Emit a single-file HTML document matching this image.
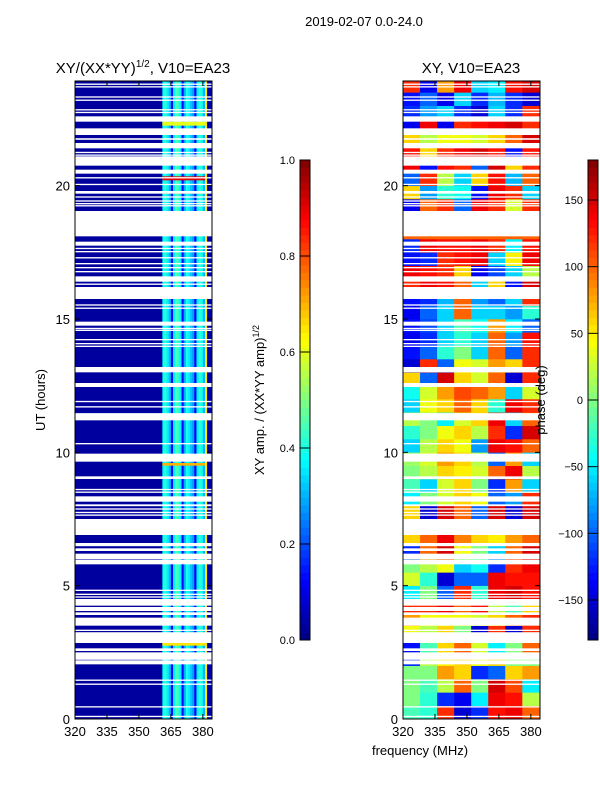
<!DOCTYPE html>
<html><head><meta charset="utf-8"><style>
body{margin:0;background:#fff;}
svg text{font-family:"Liberation Sans",sans-serif;fill:#000;}
</style></head><body>
<svg id="fig" width="600" height="800" xmlns="http://www.w3.org/2000/svg">
<rect width="600" height="800" fill="#fff"/>
<defs><clipPath id="clipL"><rect x="75" y="81" width="137" height="638"/></clipPath><clipPath id="clipR"><rect x="403" y="81" width="137" height="638"/></clipPath></defs>
<text x="364" y="26" font-size="13" text-anchor="middle">2019-02-07 0.0-24.0</text>
<g id="left"></g>
<g id="right"></g>
<g id="cb1"></g>
<g id="cb2"></g>
<text x="420" y="755" font-size="13" text-anchor="middle">frequency (MHz)</text>
<text transform="translate(45,400) rotate(-90)" font-size="13" text-anchor="middle">UT (hours)</text>
<text transform="translate(264,400) rotate(-90)" font-size="13" text-anchor="middle">XY amp. / (XX*YY amp)<tspan font-size="9" dy="-5">1/2</tspan></text>
<text transform="translate(545,400) rotate(-90)" font-size="13" text-anchor="middle">phase (deg)</text>
<text x="143" y="73" font-size="15" text-anchor="middle">XY/(XX*YY)<tspan font-size="10" dy="-6">1/2</tspan><tspan dy="6">, V10=EA23</tspan></text>
<text x="471" y="73" font-size="15" text-anchor="middle">XY, V10=EA23</text>
</svg>
<script>
// ---- data ----
const freqTicks = [320, 335, 350, 365, 380];
const hourTicks = [0, 5, 10, 15, 20];
const ampTicks = [0.0, 0.2, 0.4, 0.6, 0.8, 1.0];
const phaseTicks = [-150, -100, -50, 0, 50, 100, 150];
// amplitude per 1-MHz bin in the bright band (361..384 MHz)
const ampBandStart = 361;
const ampBand = [0.38, 0.42, 0.36, 0.3, 0.13, 0.36, 0.45, 0.42, 0.36, 0.13, 0.3, 0.4, 0.36, 0.32, 0.28, 0.12, 0.36, 0.42, 0.38, 0.3, 0.65, 0.05, 0.04, 0.04];
const ampBase = 0.03;
// bright amplitude rows [h0, h1, value]
const ampHot = [[20.2, 20.35, 0.9], [19.7, 19.8, 0.75], [22.25, 22.4, 0.6], [9.5, 9.6, 0.7], [2.75, 2.85, 0.65]];
// phase values: 48 half-hour rows (0h upward) x 8 freq bins of 8 MHz from 320
const phaseRows = [
[-20,-30,120,-150,-120,130,140,100],[0,-30,-120,-140,-50,140,130,20],[0,-20,20,100,0,150,110,-50],[0,0,80,60,-120,-100,60,80],
[-120,20,50,60,40,60,0,0],[-130,-20,60,100,30,-50,0,100],[40,20,60,0,-150,120,-150,120],[80,40,40,40,30,60,100,120],
[120,120,140,100,130,20,-20,60],[-50,0,-100,120,-30,140,150,130],[30,-30,-150,-100,-100,140,130,130],[0,20,40,-60,-40,-120,120,140],
[-120,100,150,40,0,-60,100,150],[60,100,140,90,60,50,80,100],[60,60,60,60,60,60,60,60],[60,-150,150,100,-100,150,-150,150],
[-50,0,30,60,40,-100,-80,120],[-20,-60,30,60,0,-120,80,-60],[0,20,60,50,30,100,140,20],[10,30,80,60,20,-100,80,-60],
[-60,20,60,40,-80,140,130,100],[-30,0,40,60,20,120,-120,150],[20,0,-50,30,60,140,-60,100],[-60,40,60,100,60,-30,140,120],
[-40,30,80,110,100,80,-60,30],[60,-100,150,60,30,100,-150,120],[-150,120,-100,40,30,80,60,120],[-130,-100,-30,0,-60,100,-100,120],
[-140,-120,-60,-30,-60,100,-80,130],[-130,-110,-60,-20,-40,80,-50,-100],[-140,-100,-60,100,-60,-60,-80,-30],[-130,-120,-70,100,-80,-100,-60,120],
[120,140,130,100,-60,60,-130,150],[140,130,120,60,-140,-110,-60,20],[-130,-120,120,130,140,-60,50,140],[-120,140,130,130,140,120,-50,130],
[100,100,100,100,100,100,100,100],[-140,100,120,-100,140,120,30,120],[-140,100,120,-100,140,120,30,120],[60,-80,-30,-40,-130,140,120,-60],
[-100,120,20,-60,60,130,-70,100],[140,-130,130,120,-100,150,60,120],[130,60,120,140,150,130,-130,130],[60,20,40,40,30,60,100,150],
[-140,140,-140,120,130,140,150,120],[-120,-80,-60,-120,-150,-60,-120,120],[-130,-100,-140,-60,-120,-70,-120,-150],[120,-140,80,140,-60,-50,130,150]
];
// flagged (white) intervals in hours [start, end]
const gapStart = [23.95,23.78,23.68,23.3,23.18,22.82,22.72,22.4,21.9,21.72,21.4,21.22,21.12,20.75,20.45,20.27,20.02,19.7,19.55,19.4,19.3,19.22,18.1,17.75,17.62,17.5,17.27,17.05,16.9,16.75,16.4,16.28,15.75,15.5,15.38,14.75,14.62,14.55,14.2,14.05,13.95,13.0,12.45,11.88,11.68,11.2,11.42,10.3,9.65,9.0,8.58,8.48,8.15,7.98,7.85,7.72,7.62,6.9,6.48,6.3,6.0,5.8,4.8,4.65,4.55,4.25,4.05,3.9,3.5,3.3,3.2,2.85,2.55,2.22,2.05,1.43,1.28,0.43,0.07];
const gapEnd   = [24.0,23.83,23.73,23.35,23.23,22.87,22.77,22.6,22.15,21.78,21.6,21.27,21.17,21.1,20.6,20.32,20.07,19.8,19.6,19.45,19.35,19.27,19.05,17.9,17.67,17.55,17.32,17.1,16.95,16.8,16.6,16.33,16.2,15.55,15.43,14.9,14.67,14.6,14.25,14.1,14.0,13.2,12.6,11.93,11.73,11.45,11.47,10.35,9.95,9.1,8.63,8.53,8.35,8.05,7.9,7.77,7.67,7.5,6.6,6.4,6.2,5.98,4.85,4.7,4.6,4.5,4.2,4.0,3.8,3.35,3.25,3.25,2.65,2.5,2.2,1.48,1.33,0.48,0.12];

// ---- helpers ----
const NS = "http://www.w3.org/2000/svg";
function jet(v){ v=Math.max(0,Math.min(1,v));
  const r=Math.max(0,Math.min(1,1.5-Math.abs(4*v-3)));
  const g=Math.max(0,Math.min(1,1.5-Math.abs(4*v-2)));
  const b=Math.max(0,Math.min(1,1.5-Math.abs(4*v-1)));
  return `rgb(${Math.round(r*255)},${Math.round(g*255)},${Math.round(b*255)})`; }
function mk(parent, tag, attrs){ const e=document.createElementNS(NS,tag); for(const k in attrs) e.setAttribute(k,attrs[k]); parent.appendChild(e); return e; }
const FMIN=320, FMAX=384.3, Y0=719, Y24=79, TOP=81;
function yScale(h){ return Y0 + (Y24-Y0)*h/24; }
function xScaleFor(x0,x1){ return f => x0 + (x1-x0)*(f-FMIN)/(FMAX-FMIN); }

function drawAxes(g, x0, x1){
  const xs = xScaleFor(x0,x1);
  mk(g,'rect',{x:x0,y:TOP,width:x1-x0,height:Y0-TOP,fill:'none',stroke:'#000','stroke-width':1});
  freqTicks.forEach(f=>{
    const x=xs(f);
    const t=mk(g,'line',{x1:x,x2:x,y1:Y0,y2:Y0-5,stroke:'#000'});
     
    mk(g,'line',{x1:x,x2:x,y1:TOP,y2:TOP+5,stroke:'#000'});
    const l=mk(g,'text',{x:x,y:Y0+17,'font-size':13,'text-anchor':'middle'});
     
    l.textContent=f;
  });
  hourTicks.forEach(h=>{
    const y=yScale(h);
    mk(g,'line',{x1:x0,x2:x0+5,y1:y,y2:y,stroke:'#000'});
    mk(g,'line',{x1:x1,x2:x1-5,y1:y,y2:y,stroke:'#000'});
    const l=mk(g,'text',{x:x0-5,y:y+5,'font-size':13,'text-anchor':'end'});
     
    l.textContent=h;
  });
}
function drawGaps(g,x0,x1){
  gapStart.forEach((s,i)=>{
    const e=gapEnd[i];
    const r=mk(g,'rect',{x:x0,y:yScale(e),width:x1-x0,height:Math.max(1,yScale(s)-yScale(e)),fill:'#fff'});
     
  });
}

// left panel
(function(){
  const root=document.getElementById('left'); const x0=75,x1=212; const xs=xScaleFor(x0,x1);
  const g=mk(root,'g',{'clip-path':'url(#clipL)'});
  mk(g,'rect',{x:x0,y:TOP,width:x1-x0,height:Y0-TOP,fill:jet(ampBase)});
  ampBand.forEach((v,i)=>{
    const f=ampBandStart+i;
    const c=mk(g,'rect',{x:xs(f),y:TOP,width:xs(f+1)-xs(f)+0.3,height:Y0-TOP,fill:jet(v)});
     
  });
  ampHot.forEach(r=>{
    const c=mk(g,'rect',{x:xs(ampBandStart),y:yScale(r[1]),width:xs(381)-xs(ampBandStart),height:yScale(r[0])-yScale(r[1]),fill:jet(r[2])});
     
  });
  drawGaps(g,x0,x1); drawAxes(root,x0,x1);
})();
// right panel
(function(){
  const root=document.getElementById('right'); const x0=403,x1=540; const xs=xScaleFor(x0,x1);
  const g=mk(root,'g',{'clip-path':'url(#clipR)'});
  phaseRows.forEach((row,ri)=>{
    row.forEach((v,ci)=>{
      const f0=FMIN+ci*8, f1=Math.min(FMAX,f0+8);
      const c=mk(g,'rect',{x:xs(f0),y:yScale((ri+1)*0.5),width:xs(f1)-xs(f0)+0.3,height:yScale(ri*0.5)-yScale((ri+1)*0.5)+0.3,fill:jet((v+180)/360)});
       
    });
  });
  drawGaps(g,x0,x1); drawAxes(root,x0,x1);
})();
// colorbars
function colorbar(id,x,vmin,vmax,ticks,fmt){
  const g=document.getElementById(id); const top=160,bot=640,n=64;
  for(let i=0;i<n;i++){
    const y=bot-(i+1)*(bot-top)/n;
    mk(g,'rect',{x:x,y:y,width:10,height:(bot-top)/n+0.4,fill:jet((i+0.5)/n)});
  }
  mk(g,'rect',{x:x,y:top,width:10,height:bot-top,fill:'none',stroke:'#000'});
  ticks.forEach(t=>{
    const y=bot-(bot-top)*(t-vmin)/(vmax-vmin);
    mk(g,'line',{x1:x,x2:x+10,y1:y,y2:y,stroke:'#000'});
    const l=mk(g,'text',{x:x-5,y:y+4,'font-size':11,'text-anchor':'end'});
     
    l.textContent=fmt(t);
  });
}
colorbar('cb1',300,0,1,ampTicks,t=>t.toFixed(1));
colorbar('cb2',588,-180,180,phaseTicks,t=>t<0?'\u2212'+(-t):String(t));
</script>
</body></html>
